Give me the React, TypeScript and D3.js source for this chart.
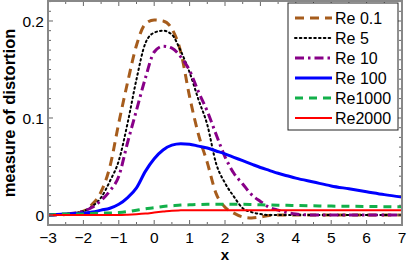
import React from 'react';
import * as d3 from 'd3';

// x grid shared by every curve
const xs = [-3, -2.5, -2, -1.75, -1.5, -1.25, -1, -0.75, -0.5, -0.25, 0, 0.25, 0.5, 0.75, 1, 1.25, 1.5, 1.75, 2, 2.25, 2.5, 2.75, 3, 3.25, 3.5, 3.75, 4, 4.5, 5, 5.5, 6, 6.5, 7];

const re01 = [0, 0.0005, 0.004, 0.011, 0.024, 0.05, 0.095, 0.137, 0.175, 0.197, 0.201, 0.2, 0.192, 0.168, 0.122, 0.083, 0.054, 0.022, 0.008, 0.002, -0.002, -0.003, -0.002, -0.0005, 0, 0, 0, 0, 0, 0, 0, 0, 0];
const re5 = [0, 0.001, 0.004, 0.009, 0.018, 0.035, 0.056, 0.095, 0.14, 0.177, 0.188, 0.19, 0.186, 0.169, 0.147, 0.119, 0.093, 0.053, 0.033, 0.019, 0.007, 0.003, 0.001, 0, 0, 0, 0, 0, 0, 0, 0, 0, 0];
const re10 = [0, 0.001, 0.004, 0.008, 0.015, 0.025, 0.04, 0.075, 0.108, 0.141, 0.168, 0.174, 0.172, 0.163, 0.149, 0.127, 0.107, 0.083, 0.06, 0.043, 0.032, 0.021, 0.014, 0.008, 0.005, 0.0025, 0.001, 0, 0, 0, 0, 0, 0];
const re100 = [0, 0.001, 0.002, 0.003, 0.005, 0.007, 0.011, 0.018, 0.028, 0.045, 0.058, 0.067, 0.072, 0.0735, 0.073, 0.071, 0.069, 0.066, 0.063, 0.0595, 0.056, 0.0525, 0.049, 0.046, 0.043, 0.0405, 0.038, 0.034, 0.03, 0.027, 0.024, 0.021, 0.0185];
const re1000 = [0, 0.001, 0.001, 0.0015, 0.002, 0.002, 0.0025, 0.0035, 0.005, 0.0065, 0.0075, 0.0088, 0.0095, 0.0102, 0.0105, 0.0108, 0.011, 0.011, 0.011, 0.011, 0.011, 0.0108, 0.0105, 0.0103, 0.0101, 0.01, 0.0098, 0.0095, 0.0092, 0.009, 0.0088, 0.0086, 0.0085];
const re2000 = [0, 0, 0, 0, 0, 0, 0, 0.0003, 0.0008, 0.0015, 0.0025, 0.0035, 0.0045, 0.0048, 0.005, 0.005, 0.005, 0.005, 0.005, 0.005, 0.005, 0.005, 0.005, 0.005, 0.005, 0.005, 0.005, 0.005, 0.005, 0.005, 0.005, 0.005, 0.005];

const seriesNames = ['Re 0.1', 'Re 5', 'Re 10', 'Re 100', 'Re1000', 'Re2000'];
const seriesValues = [re01, re5, re10, re100, re1000, re2000];

const xTicks = [-3, -2, -1, 0, 1, 2, 3, 4, 5, 6, 7];
const yTicks = [0, 0.1, 0.2];
const yTickLabels = ['0', '0.1', '0.2'];

const styles = [
  { color: '#a65c1c', width: 3, dash: '9,6' },
  { color: '#000000', width: 2, dash: '1.6,3.2' },
  { color: '#880088', width: 3, dash: '9,4,2.5,4' },
  { color: '#0000ff', width: 3, dash: null },
  { color: '#12b04a', width: 3, dash: '8,6' },
  { color: '#ff0000', width: 2, dash: null },
];

const W = 407;
const H = 262;
const left = 48;
const right = 402;
const top = 1;
const bottom = 225;

export default function App() {
  const x = d3.scaleLinear().domain([-3, 7]).range([left, right]);
  const y = d3.scaleLinear().domain([-0.0103, 0.2206]).range([bottom, top]);

  const line = d3
    .line<number>()
    .x((_, i) => x(xs[i]))
    .y((d) => y(d))
    .curve(d3.curveMonotoneX);

  const minorX = d3.range(-3, 7.01, 0.5);
  const minorY = d3.range(-0.01, 0.2201, 0.01);
  const tickColor = '#666';
  const font = 'Liberation Sans, Arial, sans-serif';

  return (
    <svg width={W} height={H} style={{ position: 'absolute', left: 0, top: 0 }} fontFamily={font}>
      <rect x={0} y={0} width={W} height={H} fill="white" />
      <defs>
        <clipPath id="plot">
          <rect x={left} y={top} width={right - left} height={bottom - top} />
        </clipPath>
      </defs>

      {/* curves */}
      <g clipPath="url(#plot)">
        {seriesValues.map((vals, i) => (
          <path
            key={seriesNames[i]}
            d={line(vals) || ''}
            fill="none"
            stroke={styles[i].color}
            strokeWidth={styles[i].width}
            strokeDasharray={styles[i].dash || undefined}
            strokeLinecap={i === 1 ? 'round' : 'butt'}
          />
        ))}
      </g>

      {/* ticks */}
      <g stroke={tickColor} strokeWidth={1}>
        {minorX.map((t) => {
          const major = Math.abs(t - Math.round(t)) < 1e-6;
          const len = major ? 5 : 3;
          return (
            <g key={'x' + t}>
              <line x1={x(t)} x2={x(t)} y1={bottom} y2={bottom - len} />
              <line x1={x(t)} x2={x(t)} y1={top} y2={top + len} />
            </g>
          );
        })}
        {minorY.map((t) => {
          const major = Math.abs(t * 10 - Math.round(t * 10)) < 1e-6;
          const len = major ? 5 : 3;
          return (
            <g key={'y' + t}>
              <line x1={left} x2={left + len} y1={y(t)} y2={y(t)} />
              <line x1={right} x2={right - len} y1={y(t)} y2={y(t)} />
            </g>
          );
        })}
      </g>

      {/* frame */}
      <rect x={left} y={top} width={right - left} height={bottom - top} fill="none" stroke="#888" strokeWidth={2} />

      {/* tick labels */}
      {xTicks.map((t) => (
        <text key={'xl' + t} x={x(t)} y={242.5} fontSize={15.5} textAnchor="middle" fill="#000">
          {t < 0 ? '\u2212' + Math.abs(t) : String(t)}
        </text>
      ))}
      {yTicks.map((t, i) => (
        <text key={'yl' + t} x={44} y={y(t) + 6} fontSize={15.5} textAnchor="end" fill="#000">
          {yTickLabels[i]}
        </text>
      ))}

      {/* axis titles */}
      <text x={(left + right) / 2} y={259.5} fontSize={15} fontWeight="bold" textAnchor="middle">
        x
      </text>
      <text
        transform={`translate(15,${113}) rotate(-90)`}
        fontSize={16.5}
        fontWeight="bold"
        textAnchor="middle"
      >
        measure of distortion
      </text>

      {/* legend */}
      <rect x={288} y={3} width={110} height={127} fill="white" stroke="#222" strokeWidth={1} />
      {seriesNames.map((name, i) => {
        const cy = 18 + i * 20;
        return (
          <g key={'lg' + name}>
            <line
              x1={295}
              x2={332}
              y1={cy}
              y2={cy}
              stroke={styles[i].color}
              strokeWidth={styles[i].width}
              strokeDasharray={styles[i].dash || undefined}
              strokeLinecap={i === 1 ? 'round' : 'butt'}
            />
            <text x={335} y={cy + 6} fontSize={16} fill="#000">
              {name}
            </text>
          </g>
        );
      })}
    </svg>
  );
}
